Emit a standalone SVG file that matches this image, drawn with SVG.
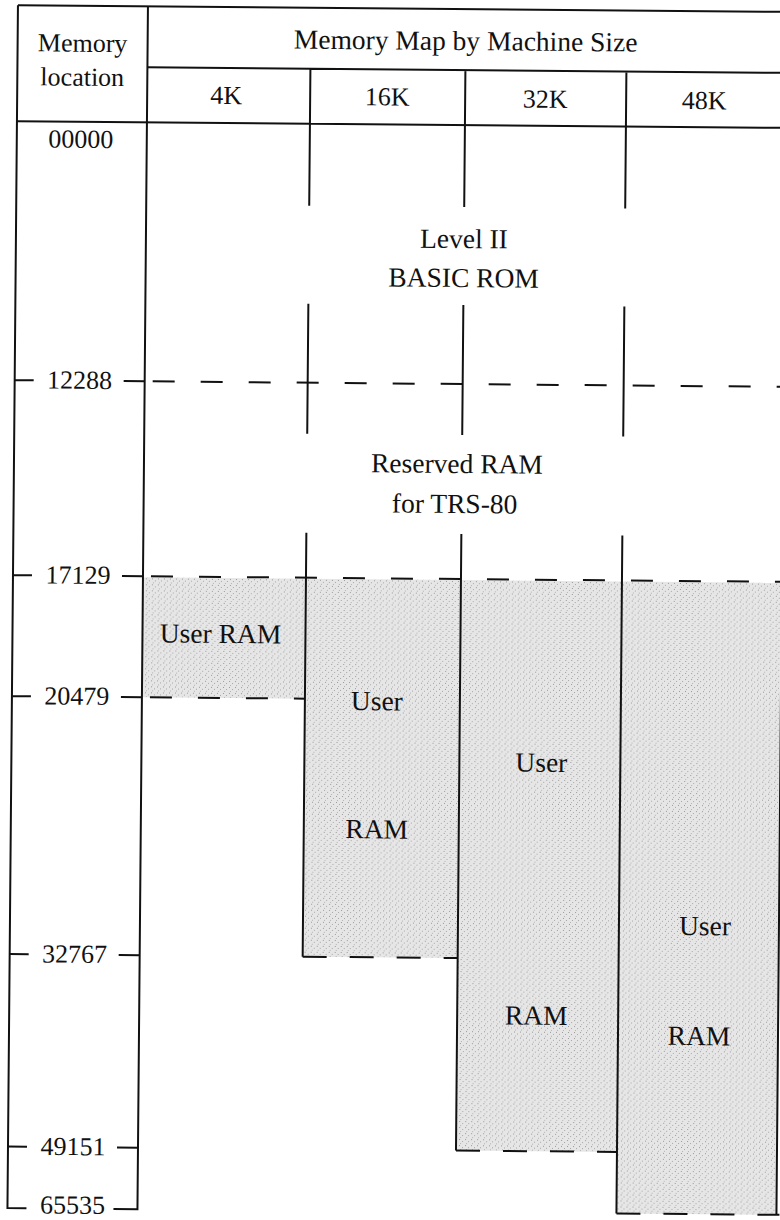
<svg xmlns="http://www.w3.org/2000/svg" width="780" height="1220" viewBox="0 0 780 1220">
<defs>
<pattern id="stip" width="6" height="6" patternUnits="userSpaceOnUse">
<rect width="6" height="6" fill="#e6e6e6"/>
<rect x="1" y="1" width="1" height="1" fill="#999"/>
<rect x="4" y="3" width="1" height="1" fill="#a6a6a6"/>
<rect x="2" y="5" width="1" height="1" fill="#b2b2b2"/>
</pattern>
</defs>
<style>
.ln{stroke:#111;stroke-width:2;fill:none}
.ds{stroke:#111;stroke-width:2;fill:none;stroke-dasharray:22 26}
.bd{stroke:#111;stroke-width:2;fill:none;stroke-dasharray:24 23}
.t{font-family:"Liberation Serif","Times New Roman",serif;font-size:27.5px;fill:#111;text-anchor:middle}
.n{font-family:"Liberation Serif","Times New Roman",serif;font-size:26px;fill:#111;text-anchor:middle}
.g{fill:url(#stip)}
</style>
<rect width="780" height="1220" fill="#fff"/>
<g transform="rotate(0.5)">
  <g id="fills">
    <rect class="g" x="148" y="576" width="163" height="120"/>
    <rect class="g" x="311" y="576" width="155" height="378"/>
    <rect class="g" x="466" y="576" width="161" height="570.5"/>
    <rect class="g" x="627" y="576" width="160" height="632"/>
  </g>
  <g id="header">
    <path class="ln" d="M18 5 H790 M148 66 H790 M18 121 H790 M311 66 V121 M466 66 V121 M627 66 V121"/>
    <text class="n" x="83" y="51">Memory</text>
    <text class="n" x="83" y="85">location</text>
    <text class="t" x="466" y="46">Memory Map by Machine Size</text>
    <text class="n" x="227" y="102">4K</text>
    <text class="n" x="388" y="102">16K</text>
    <text class="n" x="546" y="103">32K</text>
    <text class="n" x="705" y="103">48K</text>
  </g>
  <g id="axis">
    <path class="ln" d="M37 1208 H18 V5 M148 5 V1208 H124"/>
    <path class="ln" d="M18 380 H37 M127 380 H148 M18 575 H37 M127 575 H148 M18 696 H37 M127 696 H148 M18 954 H37 M127 954 H148 M18 1146.5 H37 M127 1146.5 H148"/>
    <text class="n" x="82" y="147">00000</text>
    <text class="n" x="83" y="388">12288</text>
    <text class="n" x="83" y="583">17129</text>
    <text class="n" x="83" y="704">20479</text>
    <text class="n" x="83" y="962">32767</text>
    <text class="n" x="83" y="1154.5">49151</text>
    <text class="n" x="83" y="1213">65535</text>
  </g>
  <g id="rom">
    <text class="t" x="466" y="244">Level II</text>
    <text class="t" x="466" y="283">BASIC ROM</text>
  </g>
  <g id="reserved">
    <text class="t" x="461" y="469">Reserved RAM</text>
    <text class="t" x="459" y="509">for TRS-80</text>
  </g>
  <g id="col-4k">
    <text class="t" x="226" y="641">User RAM</text>
  </g>
  <g id="col-16k">
    <text class="t" x="383" y="707">User</text>
    <text class="t" x="384" y="835">RAM</text>
  </g>
  <g id="col-32k">
    <text class="t" x="548" y="767">User</text>
    <text class="t" x="545" y="1020">RAM</text>
  </g>
  <g id="col-48k">
    <text class="t" x="713" y="929">User</text>
    <text class="t" x="708" y="1039">RAM</text>
  </g>
  <g id="connectors">
    <path class="ln" d="M311 121 V203 M466 121 V203 M627 121 V203"/>
    <path class="ln" d="M311 301 V431 M466 301 V431 M627 301 V431"/>
    <path class="ln" d="M311 530 V954 M466 530 V1146.5 M627 530 V1208 M787 576 V1208"/>
    <path class="ds" d="M156 380 H790 M156 575 H790 M156 696 H311"/>
    <path class="bd" d="M311 954 H466 M466 1146.5 H627 M627 1208 H790"/>
  </g>
</g>
</svg>
